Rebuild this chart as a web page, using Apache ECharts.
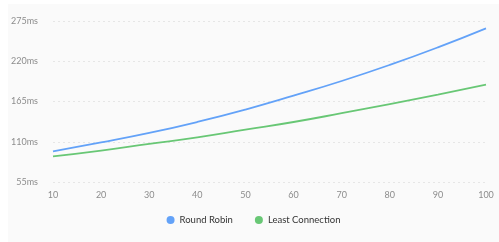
<!DOCTYPE html>
<html>
<head>
<meta charset="utf-8">
<script src="https://cdn.jsdelivr.net/npm/echarts@6/dist/echarts.min.js"></script>
<style>
html,body{margin:0;padding:0;background:#fff;width:499px;height:242px;overflow:hidden;}
#panel{position:absolute;left:8px;top:4px;width:491px;height:238px;background:#fafafa;}
#chart{width:491px;height:238px;}
</style>
</head>
<body>
<div id="panel"><div id="chart"></div></div>
<script>
var categories = ['10','20','30','40','50','60','70','80','90','100'];
var roundRobin = [97, 109, 122, 137, 154, 173, 193, 215, 239, 265];
var leastConnection = [90, 98, 107, 116, 126.5, 137, 149, 161.5, 174.5, 188];
var yMin = 55, yMax = 275, yStep = 55;

var chart = echarts.init(document.getElementById('chart'), null, {renderer:'canvas'});
chart.setOption({
  animation: false,
  textStyle: {fontFamily: 'Lato'},
  grid: {left: 45, right: 13, top: 17, bottom: 60, containLabel: false},
  legend: {
    bottom: 12, left: 'center', icon: 'circle', itemWidth: 8, itemHeight: 8, itemGap: 22,
    textStyle: {fontSize: 9.5, color: '#333', fontFamily: 'Lato'},
    data: ['Round Robin', 'Least Connection']
  },
  xAxis: {
    type: 'category', data: categories, boundaryGap: false,
    axisLine: {show: false}, axisTick: {show: false},
    axisLabel: {fontSize: 9, color: '#8c8c8c', margin: 9, fontFamily: 'Lato'}
  },
  yAxis: {
    type: 'value', min: yMin, max: yMax, interval: yStep,
    axisLine: {show: false}, axisTick: {show: false},
    axisLabel: {fontSize: 9, color: '#8c8c8c', formatter: '{value}ms', margin: 15, fontFamily: 'Lato'},
    splitLine: {lineStyle: {color: '#e6e6e6', type: [2, 3], width: 1}}
  },
  series: [
    {name: 'Round Robin', type: 'line', data: roundRobin, smooth: true, showSymbol: false, symbol: 'circle',
     itemStyle: {color: '#63a2f8'}, lineStyle: {width: 1.8, color: '#63a2f8'}},
    {name: 'Least Connection', type: 'line', data: leastConnection, smooth: true, showSymbol: false, symbol: 'circle',
     itemStyle: {color: '#68c775'}, lineStyle: {width: 1.8, color: '#68c775'}}
  ]
});
</script>
</body>
</html>
